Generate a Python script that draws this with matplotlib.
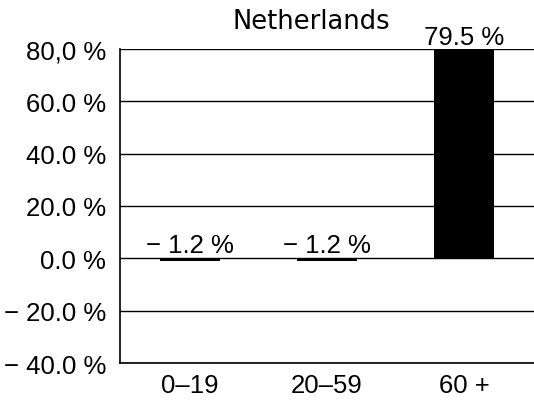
import matplotlib
matplotlib.use('Agg')
import matplotlib.pyplot as plt

# data
groups = ['0\u201319', '20\u201359', '60 +']
change = [-1.2, -1.2, 79.5]
value_labels = ['\u2212 1.2 %', '\u2212 1.2 %', '79.5 %']
yticks = [-40, -20, 0, 20, 40, 60, 80]
ytick_labels = ['\u2212 40.0 %', '\u2212 20.0 %', '0.0 %', '20.0 %', '40.0 %', '60.0 %', '80,0 %']

plt.rcParams['font.family'] = ['Liberation Sans', 'DejaVu Sans']

fig = plt.figure(figsize=(5.34, 4.02), dpi=100)
ax = fig.add_axes([120/534, 1 - 364/402, 1 - 120/534, 314/402])

x = range(len(groups))
ax.bar(x, change, width=0.44, color='black', zorder=3)

for i, (v, lab) in enumerate(zip(change, value_labels)):
    ypos = max(v, 0) + 0.6
    ax.text(i, ypos, lab, ha='center', va='bottom', fontsize=18.5)

ax.set_xlim(-0.51, 2.51)
ax.set_ylim(-40, 80)
ax.set_yticks(yticks)
ax.set_yticklabels(ytick_labels, fontsize=18.5)
ax.set_xticks(list(x))
ax.set_xticklabels(groups, fontsize=18.5)
ax.tick_params(axis='y', length=0, pad=10)
ax.tick_params(axis='x', length=0, pad=7)
ax.grid(axis='y', color='black', linewidth=1.0, zorder=0)

for s in ['top', 'right']:
    ax.spines[s].set_visible(False)
ax.spines['left'].set_linewidth(1.2)
ax.spines['bottom'].set_linewidth(1.2)

fig.text(311/534, 1 - 22/402, 'Netherlands', ha='center', va='center',
         fontsize=18.5, family=['DejaVu Sans'])

fig.savefig('out.png', dpi=100)
